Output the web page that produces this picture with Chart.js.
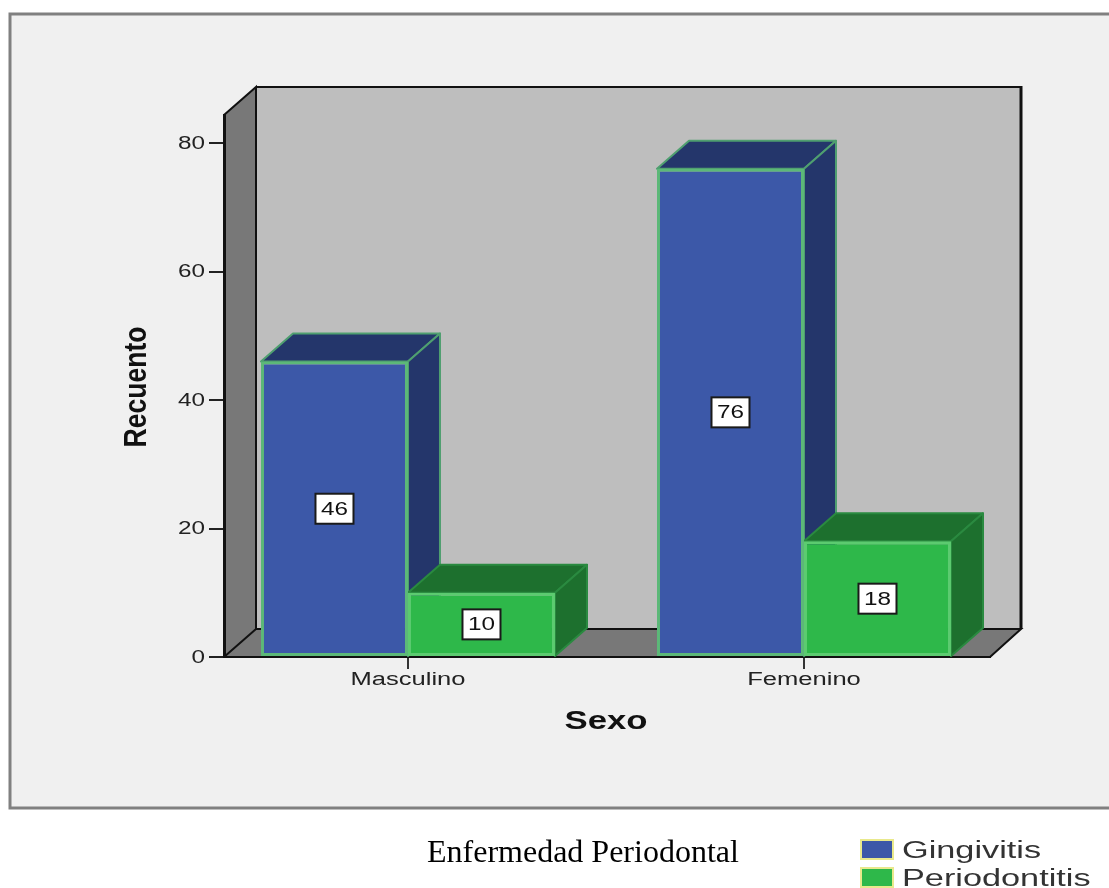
<!DOCTYPE html>
<html lang="es">
<head>
<meta charset="utf-8">
<title>Enfermedad Periodontal</title>
<style>
    html, body { margin: 0; padding: 0; background: #fff; }
    canvas { display: block; }
</style>
<script src="https://cdn.jsdelivr.net/npm/chart.js@4/dist/chart.umd.min.js"></script>
</head>
<body>
<canvas id="sexoChart" width="1109" height="888"></canvas>
<script>
const categories = ['Masculino', 'Femenino'];
const gingivitis = [46, 76];
const periodontitis = [10, 18];
const seriesNames = ['Gingivitis', 'Periodontitis'];
const xTitle = 'Sexo';
const yTitle = 'Recuento';
const legendTitle = 'Enfermedad Periodontal';

const SANS = '"Liberation Sans", Arial, sans-serif';
const DEPTH_X = 32;
const DEPTH_Y = 28;

const COLORS = {
    panel: '#f0f0f0',
    panelEdge: '#808080',
    backWall: '#bebebe',
    sideWall: '#787878',
    axis: '#111',
    text: '#222'
};

// the old SPSS export has wide, squashed lettering, so text gets a horizontal factor
function wideText(ctx, text, x, y, font, factor, align, color) {
    ctx.save();
    ctx.font = font;
    ctx.fillStyle = color || COLORS.text;
    ctx.textBaseline = 'middle';
    ctx.textAlign = align;
    ctx.translate(x, y);
    ctx.scale(factor, 1);
    ctx.fillText(text, 0, 0);
    ctx.restore();
}

function polygon(ctx, points, fill, stroke) {
    ctx.beginPath();
    points.forEach((p, i) => i ? ctx.lineTo(p[0], p[1]) : ctx.moveTo(p[0], p[1]));
    ctx.closePath();
    ctx.fillStyle = fill;
    ctx.fill();
    if (stroke) {
        ctx.strokeStyle = stroke;
        ctx.lineWidth = 2;
        ctx.lineJoin = 'round';
        ctx.stroke();
    }
}

const box3d = {
    id: 'box3d',

    beforeDraw(chart) {
        const ctx = chart.ctx;
        const { left, right, top, bottom } = chart.chartArea;

        ctx.save();
        ctx.fillStyle = '#fff';
        ctx.fillRect(0, 0, chart.width, chart.height);
        ctx.fillStyle = COLORS.panel;
        ctx.strokeStyle = COLORS.panelEdge;
        ctx.lineWidth = 3;
        ctx.fillRect(10, 14, chart.width, 794);
        ctx.strokeRect(10, 14, chart.width, 794);

        const bx0 = left + DEPTH_X;
        const bx1 = right + DEPTH_X - 1;
        const by0 = top - DEPTH_Y;
        const by1 = bottom - DEPTH_Y;

        polygon(ctx, [[bx0, by0], [bx1, by0], [bx1, by1], [bx0, by1]], COLORS.backWall);
        polygon(ctx, [[left, top], [bx0, by0], [bx0, by1], [left, bottom]], COLORS.sideWall);
        polygon(ctx, [[left, bottom], [bx0, by1], [bx1, by1], [right, bottom]], COLORS.sideWall);

        ctx.strokeStyle = COLORS.axis;
        ctx.lineWidth = 2;
        ctx.beginPath();
        ctx.moveTo(left, top);
        ctx.lineTo(bx0, by0);
        ctx.lineTo(bx0, by1);
        ctx.moveTo(left, bottom);
        ctx.lineTo(bx0, by1);
        ctx.lineTo(bx1, by1);
        ctx.lineTo(right, bottom);
        ctx.moveTo(bx0, by0);
        ctx.lineTo(bx1, by0);
        ctx.stroke();
        ctx.lineWidth = 3;
        ctx.beginPath();
        ctx.moveTo(bx1, by0 - 1);
        ctx.lineTo(bx1, by1);
        ctx.stroke();
        ctx.restore();
    },

    // top and right faces go first, series by series, so the front faces land over them
    beforeDatasetsDraw(chart) {
        const ctx = chart.ctx;

        ctx.save();
        chart.data.datasets.forEach((ds, i) => {
            chart.getDatasetMeta(i).data.forEach(bar => {
                const x0 = bar.x - bar.width / 2;
                const x1 = bar.x + bar.width / 2;
                polygon(ctx, [[x0, bar.y], [x0 + DEPTH_X, bar.y - DEPTH_Y], [x1 + DEPTH_X, bar.y - DEPTH_Y], [x1, bar.y]], ds.shadeColor, ds.shadeEdge);
                polygon(ctx, [[x1, bar.y], [x1 + DEPTH_X, bar.y - DEPTH_Y], [x1 + DEPTH_X, bar.base - DEPTH_Y], [x1, bar.base]], ds.shadeColor, ds.shadeEdge);
            });
        });
        ctx.restore();
    },

    afterDraw(chart) {
        const ctx = chart.ctx;
        const xScale = chart.scales.x;
        const yScale = chart.scales.y;
        const { bottom, left } = chart.chartArea;

        // value boxes
        chart.data.datasets.forEach((ds, i) => {
            chart.getDatasetMeta(i).data.forEach((bar, j) => {
                const cy = (bar.y + bar.base) / 2;
                ctx.fillStyle = '#fff';
                ctx.strokeStyle = '#1a1a1a';
                ctx.lineWidth = 2;
                ctx.fillRect(bar.x - 19, cy - 15, 38, 30);
                ctx.strokeRect(bar.x - 19, cy - 15, 38, 30);
                wideText(ctx, String(ds.data[j].y), bar.x, cy + 1, '18px ' + SANS, 1.35, 'center', '#111');
            });
        });

        // tick labels and axis titles
        yScale.ticks.forEach(t => {
            wideText(ctx, String(t.value), left - 19, yScale.getPixelForValue(t.value) + 1, '18px ' + SANS, 1.35, 'right');
        });
        xScale.ticks.forEach(t => {
            wideText(ctx, categories[t.value], xScale.getPixelForValue(t.value), bottom + 23, '18px ' + SANS, 1.42, 'center');
        });
        wideText(ctx, xTitle, 606, 722, 'bold 25px ' + SANS, 1.39, 'center', '#111');

        ctx.save();
        ctx.translate(137, 387);
        ctx.rotate(-Math.PI / 2);
        wideText(ctx, yTitle, 0, 0, 'bold 32px ' + SANS, 0.83, 'center', '#111');
        ctx.restore();

        // legend block under the panel
        ctx.save();
        ctx.font = '32px "Liberation Serif", serif';
        ctx.fillStyle = '#000';
        ctx.textAlign = 'left';
        ctx.textBaseline = 'alphabetic';
        ctx.fillText(legendTitle, 427, 862);
        ctx.restore();

        chart.data.datasets.forEach((ds, i) => {
            const y = 840 + i * 28;
            ctx.fillStyle = '#e9e98c';
            ctx.fillRect(860, y - 1, 34, 21);
            ctx.fillStyle = ds.backgroundColor;
            ctx.fillRect(862, y + 1, 30, 17);
            wideText(ctx, ds.label, 902, y + 12, '23px ' + SANS, 1.49, 'left', '#333');
        });
    }
};

function toPoints(values) {
    return values.map((v, i) => ({ x: i, y: v }));
}

new Chart(document.getElementById('sexoChart'), {
    type: 'bar',
    data: {
        datasets: [{
            label: seriesNames[0],
            data: toPoints(gingivitis),
            backgroundColor: '#3c58a8',
            borderColor: '#5cb878',
            borderWidth: 3,
            borderSkipped: false,
            shadeColor: '#24366b',
            shadeEdge: '#4f9f70'
        }, {
            label: seriesNames[1],
            data: toPoints(periodontitis),
            backgroundColor: '#2eb84a',
            borderColor: '#5ccb70',
            borderWidth: 3,
            borderSkipped: false,
            shadeColor: '#1d702e',
            shadeEdge: '#2a8a40'
        }]
    },
    options: {
        responsive: false,
        animation: false,
        layout: { padding: { left: 204, right: 119, top: 115, bottom: 211 } },
        categoryPercentage: 0.7424,
        barPercentage: 1,
        clip: false,
        plugins: {
            legend: { display: false },
            tooltip: { enabled: false }
        },
        scales: {
            x: {
                type: 'linear',
                offset: false,
                min: -0.4646,
                max: 1.4697,
                afterFit: scale => { scale.height = 20; },
                border: { color: COLORS.axis, width: 2 },
                grid: { offset: false, drawOnChartArea: false, tickLength: 12, color: '#333', lineWidth: 2 },
                ticks: { display: false, stepSize: 1, includeBounds: false }
            },
            y: {
                min: 0,
                max: 84.36,
                afterFit: scale => { scale.width = 20; },
                border: { color: COLORS.axis, width: 3 },
                grid: { drawOnChartArea: false, tickLength: 15, color: '#222', lineWidth: 2 },
                ticks: { display: false, stepSize: 20, includeBounds: false }
            }
        }
    },
    plugins: [box3d]
});
</script>
</body>
</html>
